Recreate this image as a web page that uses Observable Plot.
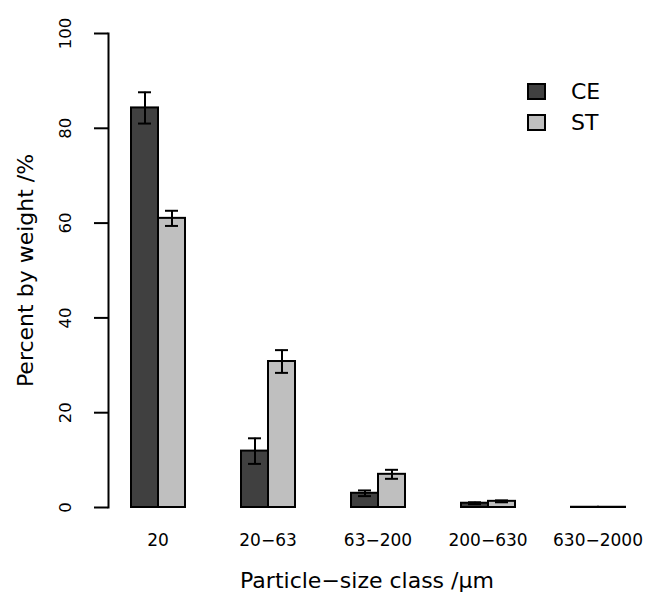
<!DOCTYPE html>
<html>
<head>
<meta charset="utf-8">
<script src="https://cdn.jsdelivr.net/npm/d3@7"></script>
<script src="https://cdn.jsdelivr.net/npm/@observablehq/plot@0.6"></script>
<style>
  body { margin: 0; background: white; }
  #wrap { position: relative; width: 645px; height: 592px; font-family: "DejaVu Sans", sans-serif; }
  #wrap svg g[aria-label="fx-axis label"] text,
  #wrap svg g[aria-label="y-axis label"] text { font-size: 22px; }
  #wrap svg g[aria-label="fx-axis tick label"] text { font-size: 17px; }
  .legend { position: absolute; left: 527px; top: 76px; font-size: 22px; color: black; }
  .legend .row { display: flex; align-items: center; height: 31px; }
  .legend .sw { width: 15px; height: 13px; border: 2px solid black; margin-right: 25px; }
</style>
</head>
<body>
<div id="wrap"></div>
<script>
const categories = ["20", "20\u221263", "63\u2212200", "200\u2212630", "630\u22122000"];
const series = ["CE", "ST"];
const seriesColors = ["#404040", "#bfbfbf"];
const ceValues = [84.3, 11.9, 3.0, 0.9, 0.05];
const stValues = [61.0, 30.8, 7.0, 1.3, 0.05];
const ceErrors = [3.3, 2.7, 0.6, 0.2, 0];
const stErrors = [1.6, 2.4, 0.95, 0.2, 0];
const yTicks = [0, 20, 40, 60, 80, 100];

const rows = categories.flatMap((c, i) => [
  {cat: c, series: "CE", value: ceValues[i], err: ceErrors[i]},
  {cat: c, series: "ST", value: stValues[i], err: stErrors[i]}
]);
const errRows = rows.filter(d => d.err > 0);

const chart = Plot.plot({
  width: 645,
  height: 592,
  marginLeft: 108,
  marginRight: 20,
  marginTop: 33,
  marginBottom: 85,
  style: {fontFamily: "DejaVu Sans", fontSize: "16px", color: "black", background: "white"},
  fx: {domain: categories, paddingInner: 0.3, paddingOuter: 0},
  x: {domain: series, paddingInner: 0, paddingOuter: 0.4, align: 1, axis: null},
  y: {domain: [0, 100]},
  color: {domain: series, range: seriesColors},
  marks: [
    Plot.frame({anchor: "left", facetAnchor: "left", strokeWidth: 2}),
    Plot.axisY({anchor: "left", ticks: yTicks, tickSize: 14, tickRotate: -90, tickPadding: 24,
                fontSize: 16.5, strokeWidth: 2,
                label: "Percent by weight /%", labelAnchor: "center", labelOffset: 91, labelArrow: "none"}),
    Plot.axisFx({anchor: "bottom", tickSize: 0, tickPadding: 26, dx: 11,
                 label: "Particle\u2212size class /\u03bcm", labelAnchor: "center", labelOffset: 80}),
    Plot.barY(rows, {fx: "cat", x: "series", y: "value", fill: "series", stroke: "black", strokeWidth: 2}),
    Plot.ruleX(errRows, {fx: "cat", x: "series", y1: d => d.value - d.err, y2: d => d.value + d.err, strokeWidth: 2}),
    Plot.tickY(errRows, {fx: "cat", x: "series", y: d => d.value - d.err, insetLeft: 7, insetRight: 7, strokeWidth: 2}),
    Plot.tickY(errRows, {fx: "cat", x: "series", y: d => d.value + d.err, insetLeft: 7, insetRight: 7, strokeWidth: 2})
  ]
});

const wrap = document.getElementById("wrap");
wrap.appendChild(chart);
const legend = document.createElement("div");
legend.className = "legend";
series.forEach((s, i) => {
  const row = document.createElement("div");
  row.className = "row";
  const sw = document.createElement("div");
  sw.className = "sw";
  sw.style.background = seriesColors[i];
  const label = document.createElement("span");
  label.textContent = s;
  row.appendChild(sw);
  row.appendChild(label);
  legend.appendChild(row);
});
wrap.appendChild(legend);
</script>
</body>
</html>
